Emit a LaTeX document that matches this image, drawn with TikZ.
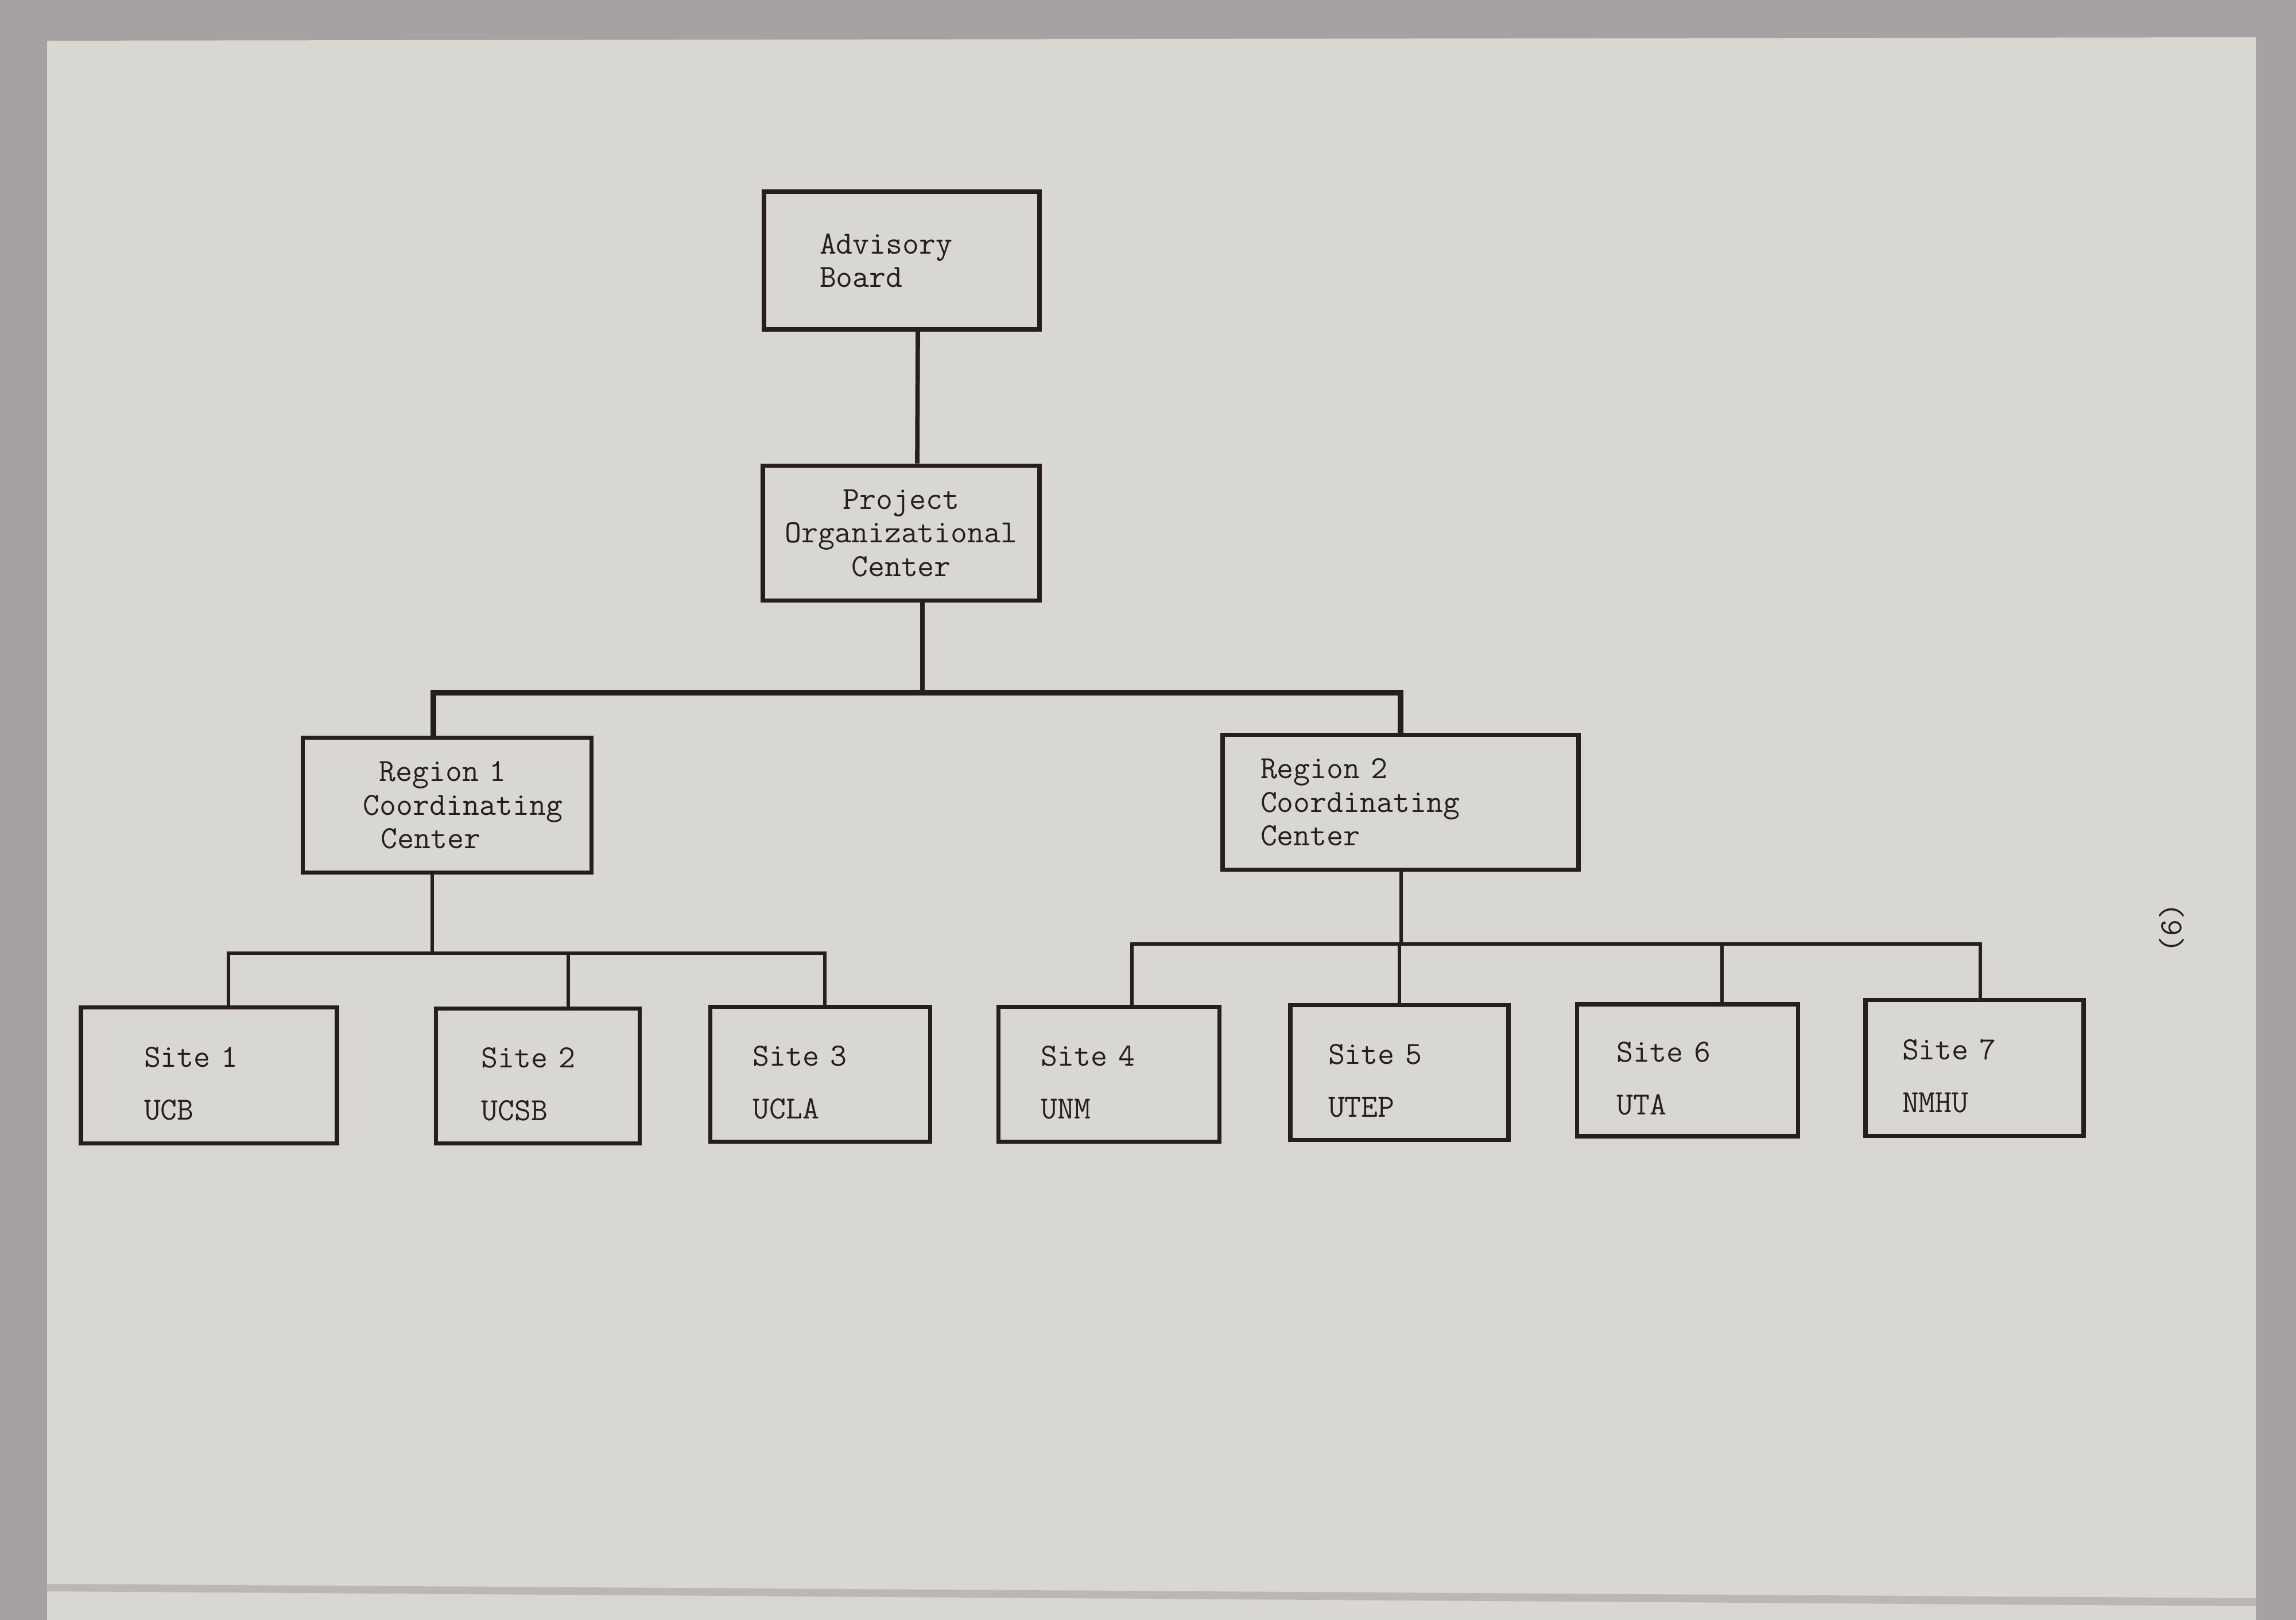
\documentclass[tikz,border=0pt]{standalone}
\usepackage{tikz}
\usetikzlibrary{positioning,calc}
\usepackage{xcolor}
\definecolor{backdrop}{RGB}{166,161,162}
\definecolor{paper}{RGB}{217,215,210}
\definecolor{ink}{RGB}{38,31,29}

\begin{document}
\begin{tikzpicture}[
    box/.style={rectangle, draw=ink, line width=2.2pt, text=ink, align=left, inner ysep=0pt, minimum height=2.35cm, font=\ttfamily\fontsize{16}{16.6}\selectfont},
    link/.style={draw=ink, line width=1.7pt}
]
    % Page
    \fill[backdrop] (0,0) rectangle (40,28.23);
    \fill[paper] (0.82,0) -- (0.82,27.52) -- (39.30,27.58) -- (39.30,0) -- cycle;
    \fill[backdrop!60!paper] (0.82,0.63) -- (39.30,0.38) -- (39.30,0.24) -- (0.82,0.50) -- cycle;

    % Top levels
    \node[box, minimum height=2.40cm, text width=2.86cm, inner xsep=0.97cm] (ab) at (15.71,23.69) {Advisory\\Board};
    \node[box, align=center, minimum width=4.82cm] (poc) at (15.70,18.94) {Project\\Organizational\\Center};

    % Regions
    \node[box, text width=2.93cm, inner xsep=1.05cm] (rc1) at (7.79,14.20) {\hspace*{0.28cm}Region 1\\\mbox{Coordinating}\\\hspace*{0.31cm}Center};
    \node[box, text width=4.88cm, inner xsep=0.66cm] (rc2) at (24.40,14.25) {Region 2\\Coordinating\\Center};

    % Sites
    \node[box, minimum height=2.37cm, text width=2.26cm, inner xsep=1.10cm] (s1) at (3.64,9.49) {\rule{0pt}{18pt}Site 1\\[9.5pt]UCB};
    \node[box, text width=1.97cm, inner xsep=0.79cm] (s2) at (9.37,9.48) {\rule{0pt}{18pt}Site 2\\[9.5pt]UCSB};
    \node[box, text width=2.35cm, inner xsep=0.74cm] (s3) at (14.29,9.51) {\rule{0pt}{18pt}Site 3\\[9.5pt]UCLA};
    \node[box, text width=2.37cm, inner xsep=0.74cm] (s4) at (19.32,9.51) {\rule{0pt}{18pt}Site 4\\[9.5pt]UNM};
    \node[box, text width=2.48cm, inner xsep=0.66cm] (s5) at (24.38,9.54) {\rule{0pt}{18pt}Site 5\\[9.5pt]UTEP};
    \node[box, minimum height=2.30cm, text width=2.47cm, inner xsep=0.69cm] (s6) at (29.40,9.58) {\rule{0pt}{18pt}Site 6\\[9.5pt]UTA};
    \node[box, minimum height=2.37cm, text width=2.52cm, inner xsep=0.64cm] (s7) at (34.40,9.62) {\rule{0pt}{18pt}Site 7\\[9.5pt]NMHU};

    % Junctions
    \coordinate (top) at (16.07,16.16);
    \coordinate (left) at (7.53,11.62);
    \coordinate (right) at (24.41,11.78);

    % Connectors
    \draw[link, line width=2.2pt] ([xshift=0.28cm]ab.south) -- ([xshift=0.28cm]poc.north);
    \draw[link, line width=2.2pt] (poc.south -| top) -- (top);
    \draw[link, line width=2.8pt] ([xshift=-0.24cm]rc1.north) |- (top) -| (rc2.north);

    \draw[link] (rc1.south -| left) -- (left);
    \draw[link] ([xshift=0.34cm]s1.north) |- (left) -| ([xshift=0.08cm]s3.north);
    \draw[link] ([xshift=0.53cm]s2.north) |- (left);

    \draw[link] (rc2.south -| right) -- (right);
    \draw[link] ([xshift=0.40cm]s4.north) |- (right) -| ([xshift=0.10cm]s7.north);
    \draw[link] (s5.north) |- (right);
    \draw[link] ([xshift=0.60cm]s6.north) |- (right);

    % Page number
    \node[text=ink, rotate=90, font=\ttfamily\fontsize{16}{16.6}\selectfont] (pagenum) at (37.83,12.06) {(6)};
\end{tikzpicture}
\end{document}
